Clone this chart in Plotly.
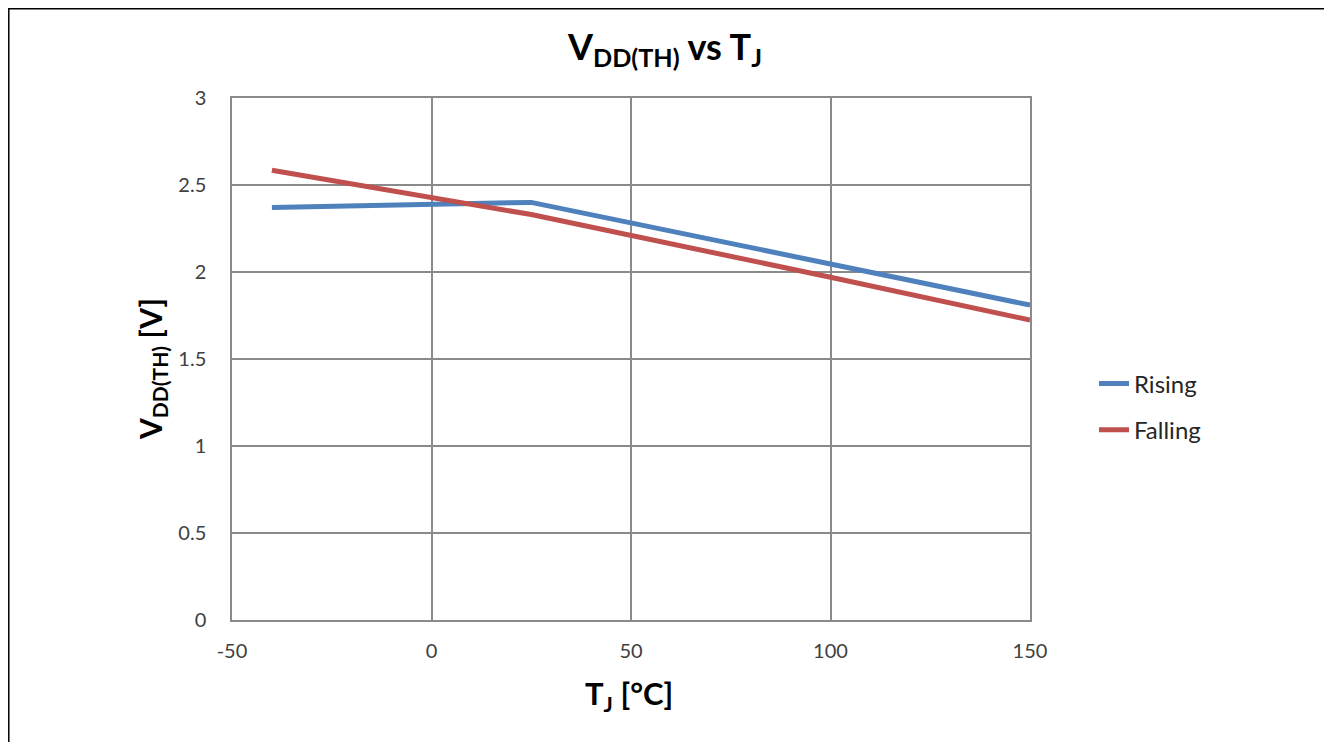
import plotly.graph_objects as go

temps = [-40, 0, 25, 100, 150]
rising = [2.37, 2.39, 2.40, 2.046, 1.81]
falling = [2.585, 2.427, 2.33, 1.97, 1.724]

x_ticks = [-50, 0, 50, 100, 150]
x_labels = ["-50", "0", "50", "100", "150"]
y_ticks = [0, 0.5, 1, 1.5, 2, 2.5, 3]
y_labels = ["0", "0.5", "1", "1.5", "2", "2.5", "3"]

FONT = "Lato, 'Open Sans', sans-serif"
GRID = "#8a8a8a"

# page is offset by the browser's 8px body margin
L, T = 224, 90
W, H = 798, 522

fig = go.Figure()
fig.add_trace(go.Scatter(x=temps, y=rising, mode="lines", name="Rising",
                         legendgroup="a",
                         line=dict(color="#4F81BD", width=5)))
fig.add_trace(go.Scatter(x=temps, y=falling, mode="lines", name="Falling",
                         legendgroup="b",
                         line=dict(color="#C0504D", width=5)))

fig.update_layout(
    width=1332, height=742,
    margin=dict(l=L, r=1332 - L - W, t=T, b=742 - T - H),
    paper_bgcolor="white", plot_bgcolor="white",
    font=dict(family=FONT, color="#404040", size=20),
    title=dict(text="<b>V<sub>DD(TH)</sub> vs T<sub>J</sub></b>",
               x=(665 - 8) / 1332, xref="container",
               y=1 - (47 - 8) / 742, yref="container",
               xanchor="center", yanchor="middle",
               font=dict(size=36, color="black", family=FONT)),
    legend=dict(x=(1094 - 232) / 798, y=(620 - 407) / 522,
                xanchor="left", yanchor="middle",
                font=dict(size=24, color="#262626", family=FONT),
                traceorder="grouped", tracegroupgap=12,
                bgcolor="rgba(0,0,0,0)"),
    xaxis=dict(range=[-50, 150], tickvals=x_ticks, ticktext=x_labels,
               showgrid=True, gridcolor=GRID, gridwidth=1.5, zeroline=False,
               showline=True, linecolor=GRID, linewidth=1.5, mirror=True,
               ticks="", ticklabelstandoff=12,
               tickfont=dict(size=20, color="#404040")),
    yaxis=dict(range=[0, 3], tickvals=y_ticks, ticktext=y_labels,
               showgrid=True, gridcolor=GRID, gridwidth=1.5, zeroline=False,
               showline=True, linecolor=GRID, linewidth=1.5, mirror=True,
               ticks="", ticklabelstandoff=20,
               tickfont=dict(size=20, color="#404040")),
    annotations=[
        dict(text="<b>T<sub>J</sub> [°C]</b>", xref="paper", yref="paper",
             x=(629 - 232) / 798, y=(620 - 695) / 522, showarrow=False,
             xanchor="center", yanchor="middle",
             font=dict(size=31, color="black", family=FONT)),
        dict(text="<b>V<sub>DD(TH)</sub> [V]</b>", xref="paper", yref="paper",
             x=(152 - 232) / 798, y=(620 - 369) / 522, showarrow=False,
             textangle=-90, xanchor="center", yanchor="middle",
             font=dict(size=30, color="black", family=FONT)),
    ],
    shapes=[
        dict(type="rect", xref="paper", yref="paper",
             x0=(0.8 - L) / W, x1=(1323 - L) / W,
             y0=-0.4, y1=1 + (T - 0.8) / H,
             line=dict(color="black", width=1.5), layer="below"),
    ],
)

fig.write_html("out.html")
